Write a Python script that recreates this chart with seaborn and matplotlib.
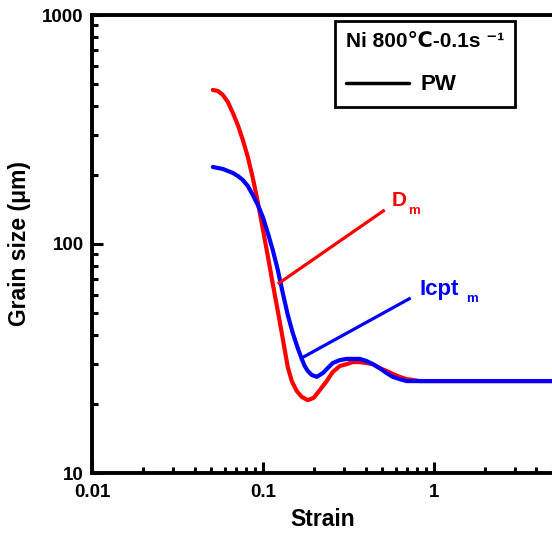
import matplotlib
matplotlib.use("Agg")
import matplotlib.pyplot as plt
from matplotlib.lines import Line2D
from matplotlib.ticker import LogLocator, FixedLocator, FixedFormatter, NullFormatter
import seaborn as sns
import pandas as pd
import numpy as np

# ---- data ----
dm_strain = [0.051, 0.0546, 0.0584, 0.0624, 0.0668, 0.0714, 0.0764, 0.0817, 0.0874, 0.0935,
             0.100, 0.107, 0.1144, 0.1224, 0.1291, 0.1345, 0.1400, 0.1478, 0.1580, 0.1690,
             0.1833, 0.1987, 0.2154, 0.2367, 0.2566, 0.2820, 0.3099, 0.3360, 0.3693, 0.4057,
             0.4398, 0.4832, 0.5310, 0.5757, 0.6327, 0.6953, 0.7538, 0.8283, 0.9475, 5.0]
dm_size = [470.5, 465.8, 447.4, 417.0, 373.4, 330.9, 284.6, 239.9, 194.2, 152.5,
           116.3, 88.6, 66.9, 51.0, 40.9, 34.4, 29.0, 25.2, 22.8, 21.5,
           20.8, 21.3, 23.0, 25.2, 27.6, 29.3, 29.9, 30.5, 30.5, 30.2,
           29.9, 28.7, 27.9, 27.1, 26.3, 25.7, 25.5, 25.2, 25.2, 25.2]

icpt_strain = [0.051, 0.0584, 0.0668, 0.0714, 0.0764, 0.0817, 0.0874, 0.0935, 0.100, 0.107,
               0.1144, 0.1224, 0.1309, 0.1400, 0.1497, 0.1602, 0.1690, 0.1760, 0.1833, 0.1934,
               0.2069, 0.2244, 0.2399, 0.2566, 0.2820, 0.3099, 0.3360, 0.3693, 0.4057, 0.4398,
               0.4832, 0.5310, 0.5757, 0.6327, 0.6953, 5.0]
icpt_size = [216.9, 212.6, 204.2, 198.2, 190.3, 179.2, 163.7, 148.0, 131.2, 111.7,
             94.1, 77.0, 61.1, 49.0, 40.9, 35.1, 31.5, 29.3, 27.9, 26.8,
             26.3, 27.3, 28.7, 30.2, 31.1, 31.5, 31.5, 31.5, 30.8, 29.9,
             28.7, 27.3, 26.3, 25.7, 25.2, 25.2]

# pointer lines (start on curve, end near label)
dm_pointer_x = [0.1224, 0.517]
dm_pointer_y = [66.9, 140.8]
icpt_pointer_x = [0.169, 0.7336]
icpt_pointer_y = [31.8, 58.1]

x_ticks = [0.01, 0.1, 1]
x_ticklabels = ["0.01", "0.1", "1"]
y_ticks = [10, 100, 1000]
y_ticklabels = ["10", "100", "1000"]

legend_title = "Ni 800\u2103-0.1s \u207b\u00b9"
legend_label = "PW"

# ---- styling ----
sns.set_style("ticks")
plt.rcParams["font.family"] = ["Liberation Sans", "DejaVu Sans"]
plt.rcParams["font.weight"] = "bold"
plt.rcParams["axes.labelweight"] = "bold"
for k in ["text.color", "axes.labelcolor", "xtick.color", "ytick.color",
          "xtick.labelcolor", "ytick.labelcolor"]:
    plt.rcParams[k] = "black"

fig = plt.figure(figsize=(5.52, 5.35), dpi=100)
ax = fig.add_axes([92 / 552, 1 - 473 / 535, (553 - 92) / 552, (473 - 15) / 535])

df_dm = pd.DataFrame({"Strain": dm_strain, "Grain size": dm_size})
df_ic = pd.DataFrame({"Strain": icpt_strain, "Grain size": icpt_size})

sns.lineplot(data=df_dm, x="Strain", y="Grain size", color="#ff0000", lw=3,
             estimator=None, sort=False, ax=ax)
sns.lineplot(data=df_ic, x="Strain", y="Grain size", color="#0000ff", lw=3,
             estimator=None, sort=False, ax=ax)

ax.plot(dm_pointer_x, dm_pointer_y, color="#ff0000", lw=2.3, solid_capstyle="butt")
ax.plot(icpt_pointer_x, icpt_pointer_y, color="#0000ff", lw=2.3, solid_capstyle="butt")

ax.set_xscale("log")
ax.set_yscale("log")
ax.set_xlim(0.01, 5.0)
ax.set_ylim(10, 1000)

ax.text(0.568, 155.6, "D", color="#ff0000", fontsize=15, fontweight="bold",
        ha="left", va="center")
ax.text(0.705, 139.0, "m", color="#ff0000", fontsize=9.5, fontweight="bold",
        ha="left", va="center")
ax.text(0.828, 63.0, "Icpt", color="#0000ff", fontsize=16, fontweight="bold",
        ha="left", va="center")
ax.text(1.56, 57.5, "m", color="#0000ff", fontsize=9.5, fontweight="bold",
        ha="left", va="center")

ax.xaxis.set_major_locator(FixedLocator(x_ticks))
ax.xaxis.set_major_formatter(FixedFormatter(x_ticklabels))
ax.yaxis.set_major_locator(FixedLocator(y_ticks))
ax.yaxis.set_major_formatter(FixedFormatter(y_ticklabels))
ax.xaxis.set_minor_locator(LogLocator(base=10, subs=np.arange(2, 10)))
ax.yaxis.set_minor_locator(LogLocator(base=10, subs=np.arange(2, 10)))
ax.xaxis.set_minor_formatter(NullFormatter())
ax.yaxis.set_minor_formatter(NullFormatter())

ax.tick_params(which="major", direction="in", length=8, width=2.2, labelsize=13.5,
               pad=6, top=False, right=False, colors="black")
ax.tick_params(which="minor", direction="in", length=4, width=2.2, top=False, right=False,
               colors="black")
for lab in ax.get_xticklabels() + ax.get_yticklabels():
    lab.set_fontweight("bold")
ax.tick_params(axis="x", which="major", pad=8)

for s in ["left", "bottom", "top"]:
    ax.spines[s].set_linewidth(2.8)
    ax.spines[s].set_color("black")
ax.spines["right"].set_visible(False)

ax.set_xlabel("Strain", fontsize=16.5, fontweight="bold", labelpad=5)
ax.set_ylabel("Grain size (\u03bcm)", fontsize=16.5, fontweight="bold", labelpad=8)

handles = [Line2D([], [], color="black", lw=2.5)]
leg = ax.legend(handles, [legend_label], title=legend_title, loc="upper left",
                bbox_to_anchor=((335 - 92) / 461, (473 - 21) / 458), borderaxespad=0,
                frameon=True, fancybox=False, framealpha=1, edgecolor="black",
                prop={"size": 16, "weight": "bold"},
                title_fontproperties={"size": 15, "weight": "bold"},
                handlelength=2.85, handletextpad=0.5, labelspacing=1.05,
                borderpad=0.5, alignment="left")
leg.get_frame().set_linewidth(2.0)
leg.get_title().set_color("black")

fig.savefig("out.png", dpi=100)
